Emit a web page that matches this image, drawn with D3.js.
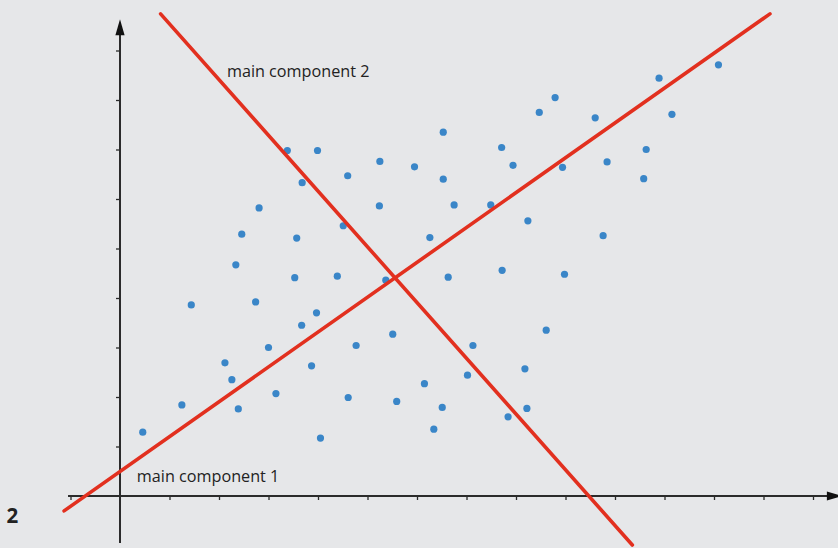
<!DOCTYPE html>
<html>
<head>
<meta charset="utf-8">
<script src="https://cdn.jsdelivr.net/npm/d3@7/dist/d3.min.js"></script>
<style>
  html, body { margin: 0; padding: 0; background: #e6e7e9; }
  svg { display: block; }
</style>
</head>
<body>
<svg id="chart" width="838" height="548"></svg>
<script>
// Data (in axis units)
const pointsX = [0.46,1.25,1.44,2.12,2.26,2.39,2.34,2.46,2.81,2.74,3.00,3.15,3.38,3.99,3.68,3.57,3.53,3.67,3.97,3.87,4.05,4.39,4.51,4.60,4.77,4.61,5.25,5.24,5.37,5.51,5.59,5.95,6.15,6.34,6.51,6.53,6.53,6.26,6.75,6.63,7.13,7.02,7.71,7.94,7.49,7.72,8.24,8.18,7.84,8.22,8.47,8.79,8.94,8.98,8.61,9.60,9.84,9.76,10.63,10.58,10.89,11.15,12.09];
const pointsY = [1.29,1.84,3.86,2.69,2.35,1.76,4.67,5.29,5.82,3.92,3.00,2.07,6.98,6.98,6.33,5.21,4.41,3.45,3.70,2.63,1.17,4.44,5.46,6.47,3.04,1.99,6.76,5.86,4.36,3.27,1.91,6.65,2.27,1.35,1.79,7.35,6.40,5.22,5.88,4.42,3.04,2.44,7.04,6.68,5.88,4.56,5.56,2.57,1.60,1.77,7.75,8.05,6.64,4.48,3.35,7.64,6.75,5.26,7.00,6.41,8.44,7.71,8.71];
const component1 = [[-1.13,-0.30],[13.13,9.74]];
const component2 = [[0.82,9.74],[10.35,-0.99]];
const xTicks = [-1,1,2,3,4,5,6,7,8,9,10,11,12,13,14];
const yTicks = [1,2,3,4,5,6,7,8,9];
const labels = [
  {text: "main component 2", x: 2.16, y: 8.47},
  {text: "main component 1", x: 0.34, y: 0.29}
];
const figureNumber = "2";

const svg = d3.select("#chart");
const x = d3.scaleLinear().domain([0, 14]).range([120, 120 + 14 * 49.5]);
const y = d3.scaleLinear().domain([0, 9]).range([496, 496 - 9 * 49.5]);

const axisColor = "#2b2b2b";

// x axis ticks
const gx = svg.append("g").attr("transform", `translate(0,${y(0)})`)
  .call(d3.axisBottom(x).tickValues(xTicks).tickSize(4).tickFormat(""));
gx.select(".domain").remove();
gx.selectAll(".tick line").attr("stroke", axisColor).attr("stroke-width", 1.3);

// y axis ticks
const gy = svg.append("g").attr("transform", `translate(${x(0)},0)`)
  .call(d3.axisLeft(y).tickValues(yTicks).tickSize(4).tickFormat(""));
gy.select(".domain").remove();
gy.selectAll(".tick line").attr("stroke", axisColor).attr("stroke-width", 1.3);

// axis lines
svg.append("line")
  .attr("x1", x(-1.05)).attr("x2", x(14.3))
  .attr("y1", y(0)).attr("y2", y(0))
  .attr("stroke", axisColor).attr("stroke-width", 2);
svg.append("line")
  .attr("x1", x(0)).attr("x2", x(0))
  .attr("y1", y(-0.95)).attr("y2", y(9.35))
  .attr("stroke", axisColor).attr("stroke-width", 2);

// arrowheads
const ax0 = x(0), ay0 = y(0);
svg.append("path")
  .attr("d", `M${ax0},${y(9.63)} L${ax0 - 4.6},${y(9.31)} L${ax0 + 4.6},${y(9.31)} Z`)
  .attr("fill", "#111");
svg.append("path")
  .attr("d", `M${x(14.6)},${ay0} L${x(14.28)},${ay0 - 4.6} L${x(14.28)},${ay0 + 4.6} Z`)
  .attr("fill", "#111");

// points
const pts = pointsX.map((v, i) => ({x: v, y: pointsY[i]}));
svg.append("g").selectAll("circle").data(pts).enter().append("circle")
  .attr("cx", d => x(d.x)).attr("cy", d => y(d.y)).attr("r", 3.6)
  .attr("fill", "#3a86c8");

// component lines
const line = d3.line().x(d => x(d[0])).y(d => y(d[1]));
[component1, component2].forEach(c => {
  svg.append("path").attr("d", line(c))
    .attr("stroke", "#e2301f").attr("stroke-width", 3.6)
    .attr("fill", "none").attr("stroke-linecap", "round");
});

// labels
svg.selectAll("text.lbl").data(labels).enter().append("text")
  .attr("class", "lbl")
  .attr("x", d => x(d.x)).attr("y", d => y(d.y))
  .attr("font-family", "Open Sans, Noto Sans, sans-serif")
  .attr("font-size", 16.2)
  .attr("fill", "#222")
  .text(d => d.text);

svg.append("text")
  .attr("x", 6.5).attr("y", 522.5)
  .attr("font-family", "Open Sans, Noto Sans, sans-serif")
  .attr("font-weight", "bold")
  .attr("font-size", 20.5)
  .attr("fill", "#222")
  .text(figureNumber);
</script>
</body>
</html>
